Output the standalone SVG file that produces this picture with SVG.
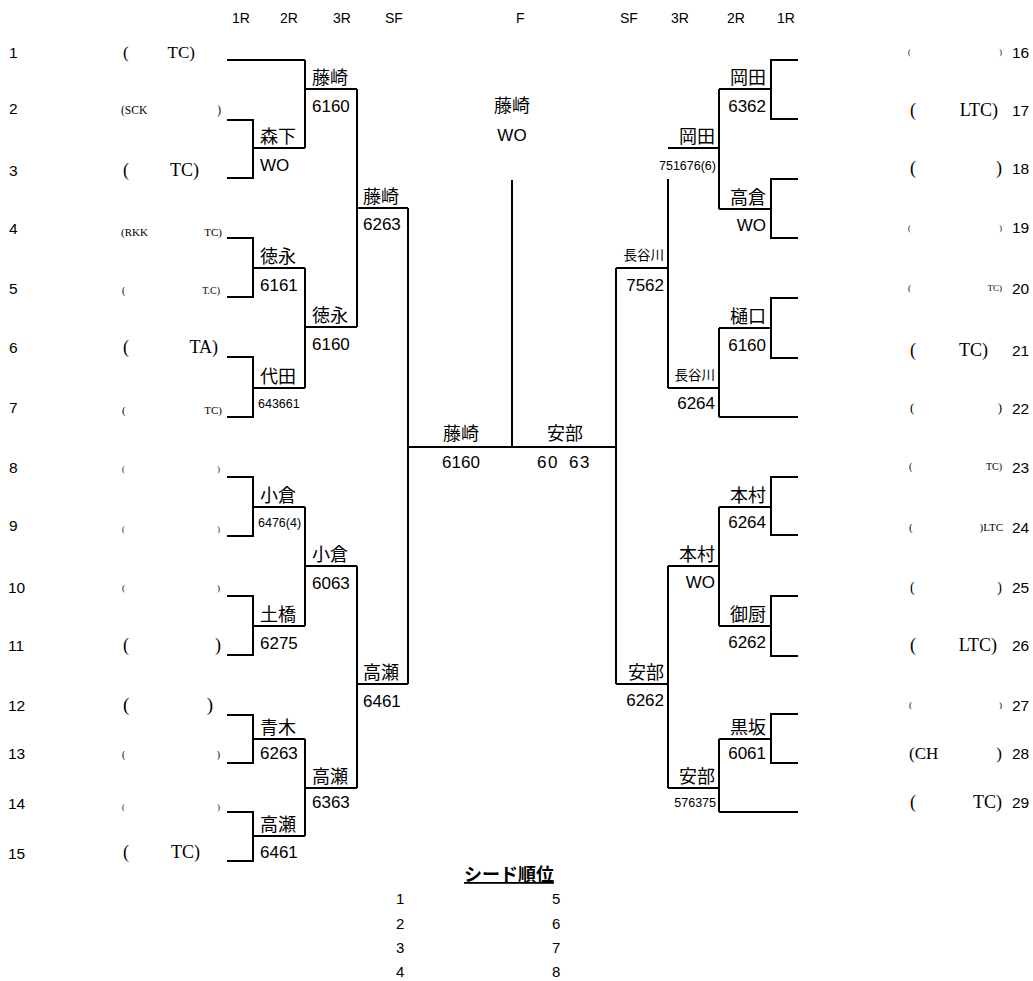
<svg xmlns="http://www.w3.org/2000/svg" width="1033" height="981" viewBox="0 0 1033 981">
<style>
text{fill:#000}
.hd{font-family:"Liberation Sans",Arial,sans-serif;font-size:14px}
.no{font-family:"Liberation Sans",Arial,sans-serif;font-size:15.5px}
.pr{font-family:"Liberation Serif","Times New Roman",serif}
.nm{font-family:"Noto Sans CJK JP",sans-serif;font-size:18px}
.nms{font-family:"Noto Sans CJK JP",sans-serif;font-size:13.5px}
.sc{font-family:"Liberation Sans",Arial,sans-serif;font-size:17px}
.scs{font-family:"Liberation Sans",Arial,sans-serif;font-size:12.5px}
.r{text-anchor:end}
.m{text-anchor:middle}
.ln{fill:none;stroke:#000;stroke-width:2}
.sd{font-family:"Noto Sans CJK JP",sans-serif;font-size:18px;font-weight:bold;text-decoration:underline}
.sn{font-family:"Liberation Sans",Arial,sans-serif;font-size:15px}
</style>
<rect width="1033" height="981" fill="#fff"/>
<g id="headers">
<text class="hd" x="232" y="23">1R</text>
<text class="hd" x="280" y="23">2R</text>
<text class="hd" x="333" y="23">3R</text>
<text class="hd" x="385" y="23">SF</text>
<text class="hd" x="516" y="23">F</text>
<text class="hd" x="620" y="23">SF</text>
<text class="hd" x="671" y="23">3R</text>
<text class="hd" x="727" y="23">2R</text>
<text class="hd" x="777" y="23">1R</text>
</g>
<g id="connectors" class="ln">
<path d="M227,60H305"/>
<path d="M227,120H253V178H227M253,148H305"/>
<path d="M305,60V148M305,89H357"/>
<path d="M227,238H253V297H227M253,268H305"/>
<path d="M227,357H253V417H227M253,388H305"/>
<path d="M305,268V388M305,327H357"/>
<path d="M357,89V327M357,208H408"/>
<path d="M227,477H253V536H227M253,507H305"/>
<path d="M227,596H253V655H227M253,626H305"/>
<path d="M305,507V626M305,566H357"/>
<path d="M227,715H253V763H227M253,739H305"/>
<path d="M227,812H253V861H227M253,836H305"/>
<path d="M305,739V836M305,788H357"/>
<path d="M357,566V788M357,684H408"/>
<path d="M408,208V684M408,447H616"/>
<path d="M512,180V447"/>
<path d="M798,60H771V119H798M771,89H719"/>
<path d="M798,179H771V238H798M771,209H719"/>
<path d="M719,89V209M719,148H668"/>
<path d="M798,298H771V358H798M771,328H719"/>
<path d="M798,417H719"/>
<path d="M719,328V417M719,388H668"/>
<path d="M668,179V388M668,268H616"/>
<path d="M798,477H771V535H798M771,507H719"/>
<path d="M798,596H771V656H798M771,626H719"/>
<path d="M719,507V626M719,566H668"/>
<path d="M798,714H771V763H798M771,739H719"/>
<path d="M798,812H719"/>
<path d="M719,739V812M719,788H668"/>
<path d="M668,566V788M668,684H616"/>
<path d="M616,268V684"/>
</g>
<g id="p1"><text class="no" x="9" y="58">1</text><text class="pr" font-size="17" y="58"><tspan x="123">( </tspan><tspan x="195" class="r">TC)</tspan></text></g>
<g id="p2"><text class="no" x="9" y="114">2</text><text class="pr" font-size="11.5" y="114"><tspan x="121">(SCK </tspan><tspan x="221" class="r">)</tspan></text></g>
<g id="p3"><text class="no" x="9" y="176">3</text><text class="pr" font-size="18" y="176"><tspan x="123">( </tspan><tspan x="199" class="r">TC)</tspan></text></g>
<g id="p4"><text class="no" x="9" y="234">4</text><text class="pr" font-size="11" y="236"><tspan x="121">(RKK </tspan><tspan x="222" class="r">TC)</tspan></text></g>
<g id="p5"><text class="no" x="9" y="294">5</text><text class="pr" font-size="10" y="294"><tspan x="122">( </tspan><tspan x="220" class="r">T.C)</tspan></text></g>
<g id="p6"><text class="no" x="9" y="353">6</text><text class="pr" font-size="18" y="353"><tspan x="123">( </tspan><tspan x="218" class="r">TA)</tspan></text></g>
<g id="p7"><text class="no" x="9" y="413">7</text><text class="pr" font-size="11" y="414"><tspan x="122">( </tspan><tspan x="222" class="r">TC)</tspan></text></g>
<g id="p8"><text class="no" x="9" y="473">8</text><text class="pr" font-size="8" y="472"><tspan x="122">( </tspan><tspan x="220" class="r">)</tspan></text></g>
<g id="p9"><text class="no" x="9" y="531">9</text><text class="pr" font-size="8" y="532"><tspan x="122">( </tspan><tspan x="220" class="r">)</tspan></text></g>
<g id="p10"><text class="no" x="8" y="593">10</text><text class="pr" font-size="9" y="591"><tspan x="122">( </tspan><tspan x="220" class="r">)</tspan></text></g>
<g id="p11"><text class="no" x="8" y="651">11</text><text class="pr" font-size="18" y="651"><tspan x="123">( </tspan><tspan x="221" class="r">)</tspan></text></g>
<g id="p12"><text class="no" x="8" y="711">12</text><text class="pr" font-size="19" y="711"><tspan x="123">( </tspan><tspan x="213" class="r">)</tspan></text></g>
<g id="p13"><text class="no" x="8" y="759">13</text><text class="pr" font-size="10" y="758"><tspan x="122">( </tspan><tspan x="220" class="r">)</tspan></text></g>
<g id="p14"><text class="no" x="8" y="809">14</text><text class="pr" font-size="8" y="810"><tspan x="122">( </tspan><tspan x="220" class="r">)</tspan></text></g>
<g id="p15"><text class="no" x="8" y="859">15</text><text class="pr" font-size="18" y="858"><tspan x="123">( </tspan><tspan x="200" class="r">TC)</tspan></text></g>
<g id="p16"><text class="pr" font-size="8" y="55"><tspan x="908">( </tspan><tspan x="1002" class="r">)</tspan></text><text class="no" x="1012" y="58">16</text></g>
<g id="p17"><text class="pr" font-size="18" y="116"><tspan x="910">( </tspan><tspan x="998" class="r">LTC)</tspan></text><text class="no" x="1012" y="116">17</text></g>
<g id="p18"><text class="pr" font-size="18" y="174"><tspan x="910">( </tspan><tspan x="1002" class="r">)</tspan></text><text class="no" x="1012" y="174">18</text></g>
<g id="p19"><text class="pr" font-size="8" y="231"><tspan x="908">( </tspan><tspan x="1002" class="r">)</tspan></text><text class="no" x="1012" y="233">19</text></g>
<g id="p20"><text class="pr" font-size="9" y="291"><tspan x="908">( </tspan><tspan x="1002" class="r">TC)</tspan></text><text class="no" x="1012" y="294">20</text></g>
<g id="p21"><text class="pr" font-size="18" y="356"><tspan x="910">( </tspan><tspan x="988" class="r">TC)</tspan></text><text class="no" x="1012" y="356">21</text></g>
<g id="p22"><text class="pr" font-size="13" y="412"><tspan x="910">( </tspan><tspan x="1002" class="r">)</tspan></text><text class="no" x="1012" y="414">22</text></g>
<g id="p23"><text class="pr" font-size="10" y="470"><tspan x="909">( </tspan><tspan x="1002" class="r">TC)</tspan></text><text class="no" x="1012" y="473">23</text></g>
<g id="p24"><text class="pr" font-size="11" y="531"><tspan x="909">( </tspan><tspan x="1003" class="r">)LTC</tspan></text><text class="no" x="1012" y="533">24</text></g>
<g id="p25"><text class="pr" font-size="14" y="592"><tspan x="910">( </tspan><tspan x="1002" class="r">)</tspan></text><text class="no" x="1012" y="593">25</text></g>
<g id="p26"><text class="pr" font-size="18" y="651"><tspan x="910">( </tspan><tspan x="997" class="r">LTC)</tspan></text><text class="no" x="1012" y="651">26</text></g>
<g id="p27"><text class="pr" font-size="9" y="708"><tspan x="909">( </tspan><tspan x="1002" class="r">)</tspan></text><text class="no" x="1012" y="711">27</text></g>
<g id="p28"><text class="pr" font-size="17" y="759"><tspan x="909">(CH </tspan><tspan x="1002" class="r">)</tspan></text><text class="no" x="1012" y="759">28</text></g>
<g id="p29"><text class="pr" font-size="18" y="808"><tspan x="910">( </tspan><tspan x="1002" class="r">TC)</tspan></text><text class="no" x="1012" y="808">29</text></g>
<g id="m-morishita"><text class="nm" x="260" y="143">森下</text><text class="sc" x="260" y="171">WO</text></g>
<g id="m-fujisaki-3r"><text class="nm" x="312" y="84">藤崎</text><text class="sc" x="312" y="112">6160</text></g>
<g id="m-fujisaki-sf"><text class="nm" x="363" y="203">藤崎</text><text class="sc" x="363" y="230">6263</text></g>
<g id="m-tokunaga-2r"><text class="nm" x="260" y="263">徳永</text><text class="sc" x="260" y="291">6161</text></g>
<g id="m-tokunaga-3r"><text class="nm" x="312" y="322">徳永</text><text class="sc" x="312" y="350">6160</text></g>
<g id="m-shirota"><text class="nm" x="260" y="383">代田</text><text class="scs" x="258" y="408">643661</text></g>
<g id="m-ogura-2r"><text class="nm" x="260" y="502">小倉</text><text class="scs" x="258" y="527">6476(4)</text></g>
<g id="m-ogura-3r"><text class="nm" x="312" y="561">小倉</text><text class="sc" x="312" y="589">6063</text></g>
<g id="m-dobashi"><text class="nm" x="260" y="621">土橋</text><text class="sc" x="260" y="649">6275</text></g>
<g id="m-takase-sf"><text class="nm" x="363" y="679">高瀬</text><text class="sc" x="363" y="707">6461</text></g>
<g id="m-aoki"><text class="nm" x="260" y="734">青木</text><text class="sc" x="260" y="759">6263</text></g>
<g id="m-takase-3r"><text class="nm" x="312" y="783">高瀬</text><text class="sc" x="312" y="808">6363</text></g>
<g id="m-takase-2r"><text class="nm" x="260" y="831">高瀬</text><text class="sc" x="260" y="858">6461</text></g>
<g id="m-okada-2r"><text class="nm r" x="766" y="84">岡田</text><text class="sc r" x="766" y="112">6362</text></g>
<g id="m-okada-3r"><text class="nm r" x="715" y="143">岡田</text><text class="scs r" x="716" y="170">751676(6)</text></g>
<g id="m-takakura"><text class="nm r" x="766" y="204">高倉</text><text class="sc r" x="766" y="231">WO</text></g>
<g id="m-hasegawa-sf"><text class="nms r" x="664" y="260">長谷川</text><text class="sc r" x="664" y="291">7562</text></g>
<g id="m-higuchi"><text class="nm r" x="766" y="323">樋口</text><text class="sc r" x="766" y="351">6160</text></g>
<g id="m-hasegawa-3r"><text class="nms r" x="715" y="380">長谷川</text><text class="sc r" x="715" y="409">6264</text></g>
<g id="m-honmura-2r"><text class="nm r" x="766" y="502">本村</text><text class="sc r" x="766" y="528">6264</text></g>
<g id="m-honmura-3r"><text class="nm r" x="715" y="561">本村</text><text class="sc r" x="715" y="588">WO</text></g>
<g id="m-mikuriya"><text class="nm r" x="766" y="621">御厨</text><text class="sc r" x="766" y="648">6262</text></g>
<g id="m-abe-sf"><text class="nm r" x="664" y="679">安部</text><text class="sc r" x="664" y="706">6262</text></g>
<g id="m-kurosaka"><text class="nm r" x="766" y="734">黒坂</text><text class="sc r" x="766" y="759">6061</text></g>
<g id="m-abe-3r"><text class="nm r" x="715" y="783">安部</text><text class="scs r" x="716" y="807">576375</text></g>
<g id="final-left"><text class="nm m" x="461" y="440">藤崎</text><text class="sc m" x="461" y="468">6160</text></g>
<g id="final-right"><text class="nm m" x="565" y="440">安部</text><text class="sc m" x="564" y="468" letter-spacing="1.5" word-spacing="4">60 63</text></g>
<g id="champion"><text class="nm m" x="512" y="112">藤崎</text><text class="sc m" x="512" y="141">WO</text></g>
<g id="seeds">
<text class="sd m" x="509" y="881">シード順位</text>
<text class="sn" x="396" y="904">1</text><text class="sn" x="552" y="904">5</text>
<text class="sn" x="396" y="929">2</text><text class="sn" x="552" y="929">6</text>
<text class="sn" x="396" y="953">3</text><text class="sn" x="552" y="953">7</text>
<text class="sn" x="396" y="977">4</text><text class="sn" x="552" y="977">8</text>
</g>
</svg>
